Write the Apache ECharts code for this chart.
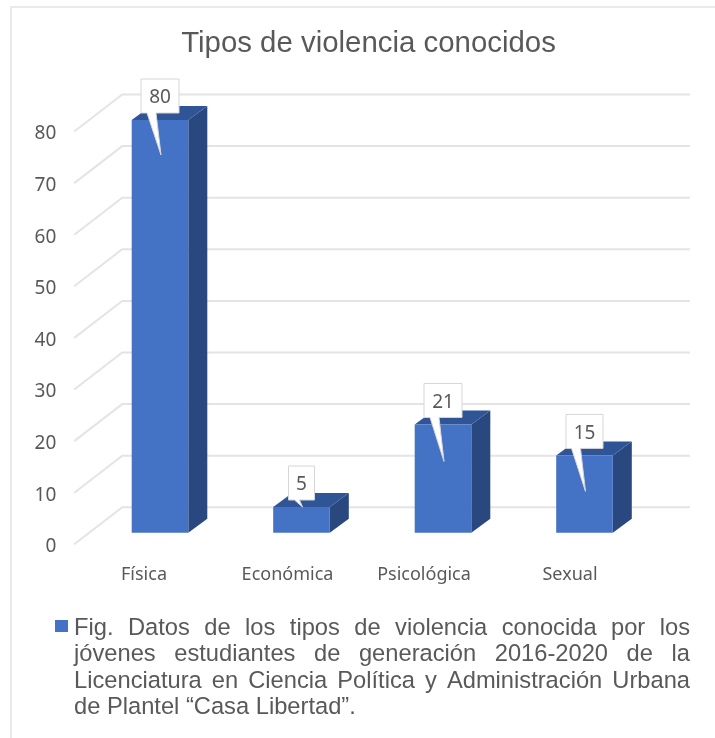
<!DOCTYPE html>
<html>
<head>
<meta charset="utf-8">
<style>
html, body { margin: 0; padding: 0; background: #fff; }
#mychart { width: 715px; height: 738px; }
</style>
<script src="https://cdn.jsdelivr.net/npm/echarts@6/dist/echarts.min.js"></script>
</head>
<body>
<div id="mychart"></div>
<script>
var categories = ['Física', 'Económica', 'Psicológica', 'Sexual'];
var values = [80, 5, 21, 15];
var yTicks = [0, 10, 20, 30, 40, 50, 60, 70, 80];
var titleText = 'Tipos de violencia conocidos';
var captionLines = [
    'Fig. Datos de los tipos de violencia conocida por los',
    'jóvenes estudiantes de generación 2016-2020 de la',
    'Licenciatura en Ciencia Política y Administración Urbana',
    'de Plantel “Casa Libertad”.'
];

// aspecto del grafico 3D
var labelShift = [32, 28, 38, 29];
var tipDrop = [35, 0, 37, 36];
var calloutWidth = [38, 26, 38, 37];

function wallItem(params, api) {
    var p = api.coord([0, api.value(1)]);
    var x0 = params.coordSys.x - 15;
    return {
        type: 'polyline',
        shape: { points: [[x0, p[1]], [x0 + 48, p[1] - 37], [690, p[1] - 37]] },
        style: { fill: null, stroke: '#e4e4e4', lineWidth: 2 }
    };
}

function barItem(params, api) {
    var top = api.coord([api.value(0), api.value(1)]);
    var base = api.coord([api.value(0), 0]);
    var half = api.size([1, 0])[0] * 0.2;
    var x1 = top[0] - half, x2 = top[0] + half;
    var y1 = top[1] - 11.5, y2 = base[1] - 11.5;
    var dx = 19, dy = 14;
    return {
        type: 'group',
        children: [
            { type: 'polygon', shape: { points: [[x2, y1], [x2 + dx, y1 - dy], [x2 + dx, y2 - dy], [x2, y2]] }, style: { fill: '#29487f' } },
            { type: 'polygon', shape: { points: [[x1, y1], [x1 + dx, y1 - dy], [x2 + dx, y1 - dy], [x2, y1]] }, style: { fill: '#2f5597' } },
            { type: 'rect', shape: { x: x1, y: y1, width: x2 - x1, height: y2 - y1 }, style: { fill: '#4472c4' } }
        ]
    };
}

function calloutItem(params, api) {
    var i = api.value(0);
    var top = api.coord([i, api.value(1)]);
    var cx = top[0], y1 = top[1] - 11.5;
    var w = calloutWidth[i] / 2;
    var bottom = y1 - 7, up = bottom - 34;
    var narrow = tipDrop[i] < 10;
    var a = cx - (narrow ? 7 : 13), b = cx - (narrow ? 2 : 4);
    return {
        type: 'group',
        children: [
            {
                type: 'polygon',
                shape: { points: [[cx - w, up], [cx + w, up], [cx + w, bottom], [b, bottom], [cx + 1, y1 + tipDrop[i]], [a, bottom], [cx - w, bottom]] },
                style: { fill: '#fff', stroke: '#d6d6d6', lineWidth: 1 }
            },
            {
                type: 'text',
                style: {
                    x: cx, y: (up + bottom) / 2 + 2,
                    text: String(api.value(1)),
                    fontFamily: 'Noto Sans', fontSize: 19, fill: '#595959',
                    align: 'center', verticalAlign: 'middle'
                }
            }
        ]
    };
}

// pie de figura justificado palabra por palabra
function captionGraphic() {
    var size = 23.7, family = 'Liberation Sans';
    var ctx = document.createElement('canvas').getContext('2d');
    ctx.font = size + 'px "' + family + '"';
    var left = 74, right = 690;
    var out = [];
    captionLines.forEach(function (line, n) {
        var words = line.split(' ');
        var used = 0;
        words.forEach(function (w) { used += ctx.measureText(w).width; });
        var last = n === captionLines.length - 1;
        var gap = last ? ctx.measureText(' ').width : (right - left - used) / (words.length - 1);
        var x = left;
        words.forEach(function (w) {
            out.push({
                type: 'text', x: x, y: 628 + n * 26.6,
                style: { text: w, fontFamily: family, fontSize: size, fill: '#595959', verticalAlign: 'middle' }
            });
            x += ctx.measureText(w).width + gap;
        });
    });
    return out;
}

var myChart = echarts.init(document.getElementById('mychart'));
myChart.setOption({
    animation: false,
    title: {
        text: titleText,
        left: 363.5, top: 24, textAlign: 'center',
        textStyle: { fontFamily: 'Liberation Sans', fontSize: 29.4, fontWeight: 'normal', color: '#595959' }
    },
    grid: { left: 89.25, top: 131.5, width: 566, height: 412.8 },
    xAxis: {
        type: 'category',
        data: categories.map(function (c, i) {
            return { value: c, textStyle: { padding: [0, labelShift[i], 0, 0] } };
        }),
        axisLine: { show: false },
        axisTick: { show: false },
        axisLabel: { margin: 22, fontFamily: 'Noto Sans', fontSize: 18, color: '#595959' }
    },
    yAxis: {
        type: 'value', min: 0, max: 80, interval: 10,
        axisLine: { show: false },
        axisTick: { show: false },
        splitLine: { show: false },
        axisLabel: {
            margin: 33,
            formatter: '{a|{value}}',
            rich: { a: { padding: [5, 0, 0, 0], fontFamily: 'Noto Sans', fontSize: 19, color: '#595959' } }
        }
    },
    legend: {
        data: ['Tipos de violencia'],
        left: 50, top: 615,
        icon: 'rect', itemWidth: 13, itemHeight: 12,
        formatter: function () { return ''; }
    },
    graphic: [
        { type: 'polyline', shape: { points: [[11, 738], [11, 7], [715, 7]] }, style: { fill: null, stroke: '#e3e3e3', lineWidth: 1.5 } }
    ].concat(captionGraphic()),
    series: [
        { name: 'pared', type: 'custom', renderItem: wallItem, clip: false, silent: true, z: 1,
            data: yTicks.map(function (t) { return [0, t]; }) },
        { name: 'Tipos de violencia', type: 'custom', renderItem: barItem, clip: false, z: 2,
            itemStyle: { color: '#4472c4' },
            data: values.map(function (v, i) { return [i, v]; }) },
        { name: 'etiquetas', type: 'custom', renderItem: calloutItem, clip: false, silent: true, z: 3,
            data: values.map(function (v, i) { return [i, v]; }) }
    ]
});
</script>
</body>
</html>
